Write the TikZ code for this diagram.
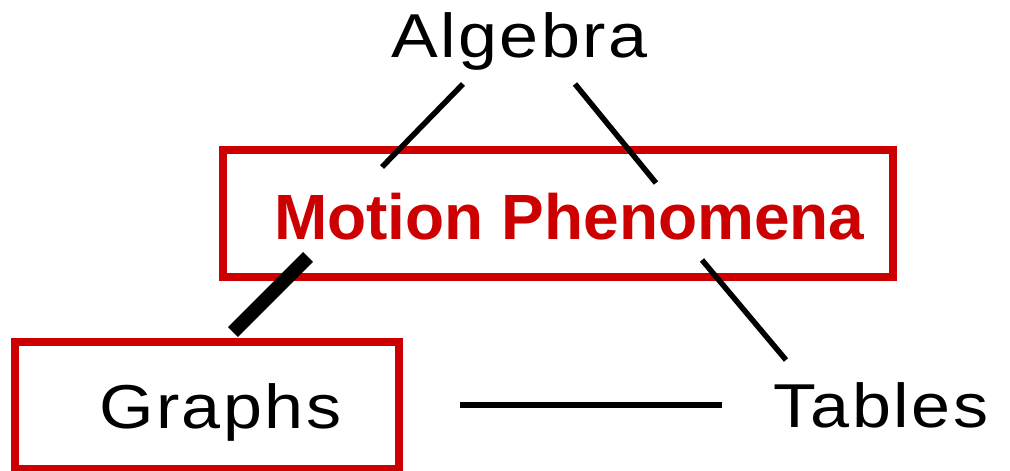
\documentclass[tikz,border=0pt]{standalone}
\usepackage{fontspec}
\setmainfont{Liberation Sans}
\newfontfamily\widesans[FakeStretch=1.13, LetterSpace=4]{Liberation Sans}
\usetikzlibrary{positioning}
\definecolor{boxred}{RGB}{204,0,0}

\begin{document}
\begin{tikzpicture}[x=1pt, y=-1pt,
  topic/.style={inner sep=0pt, anchor=base west, font=\widesans\fontsize{62}{70}\selectfont},
  redframe/.style={draw=boxred, line width=8pt, inner sep=0pt},
  link/.style={line width=5.5pt}]
  \useasboundingbox (0,0) rectangle (1010,471);

  % the three representations and the phenomenon in the middle
  \node[topic] (algebra) at (391,57) {Algebra};
  \node[redframe, minimum width=670pt, minimum height=127pt] (motionbox) at (558,213.5) {};
  \node[inner sep=0pt, anchor=base west, text=boxred, font=\bfseries\fontsize{64}{72}\selectfont] (motion) at (274,239) {Motion Phenomena};
  \node[redframe, minimum width=384pt, minimum height=127pt] (graphsbox) at (207,405.5) {};
  \node[topic] (graphs) at (99,428) {Graphs};
  \node[topic] (tables) at (773,427) {Tables};

  % end points of the links
  \coordinate (alg-l) at (463,84);
  \coordinate (mid-l) at (382,167);
  \coordinate (mot-l) at (308,257);
  \coordinate (gra-t) at (233,332);
  \coordinate (alg-r) at (575,84);
  \coordinate (mid-r) at (656,183);
  \coordinate (mot-r) at (702,260);
  \coordinate (tab-t) at (786,360);
  \coordinate (gra-r) at (460,405);
  \coordinate (tab-l) at (722,405);

  \draw[link] (alg-l) -- (mid-l);
  \draw[link, line width=14pt] (mot-l) -- (gra-t);
  \draw[link] (alg-r) -- (mid-r);
  \draw[link] (mot-r) -- (tab-t);
  \draw[link] (gra-r) -- (tab-l);
\end{tikzpicture}
\end{document}
